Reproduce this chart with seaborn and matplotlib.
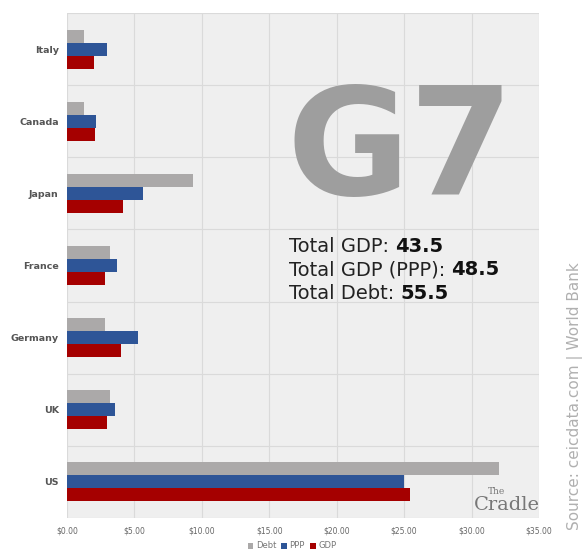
import matplotlib
matplotlib.use("Agg")
import matplotlib.pyplot as plt
import seaborn as sns
import pandas as pd
import numpy as np

countries = ["Italy", "Canada", "Japan", "France", "Germany", "UK", "US"]
debt = [1.25, 1.25, 9.35, 3.2, 2.8, 3.2, 32.0]
ppp = [3.0, 2.15, 5.65, 3.7, 5.25, 3.55, 25.0]
gdp = [2.0, 2.1, 4.15, 2.8, 4.0, 2.95, 25.4]
series = ["Debt", "PPP", "GDP"]
colors = ["#ABA9A9", "#2E5597", "#A50000"]
xticks = [0, 5, 10, 15, 20, 25, 30, 35]

df = pd.DataFrame({
    "country": countries * 3,
    "value": debt + ppp + gdp,
    "series": ["Debt"] * 7 + ["PPP"] * 7 + ["GDP"] * 7,
})

sns.set_theme(style="white")
plt.rcParams["font.family"] = ["DejaVu Sans"]

fig = plt.figure(figsize=(5.84, 5.49), dpi=100)
ax = fig.add_axes([67 / 584, 1 - 518 / 549, (539 - 67) / 584, (518 - 13) / 549])
ax.set_facecolor("#EFEFEF")

sns.barplot(data=df, y="country", x="value", hue="series", order=countries,
            hue_order=series, palette=colors, orient="h", width=0.54,
            saturation=1, linewidth=0, ax=ax, legend=True)

ax.set_xlim(0, 35)
ax.set_ylim(6.5, -0.5)
ax.set_xticks(xticks)
ax.set_xticklabels([f"${v:.2f}" for v in xticks], fontsize=5.5, color="#666666")
ax.set_yticks(range(len(countries)))
ax.set_yticklabels(countries, fontsize=6.8, fontweight="bold", color="#555555")
ax.set_yticks(np.arange(-0.5, 7, 1), minor=True)
ax.tick_params(axis="both", length=0, pad=6)
ax.tick_params(axis="y", which="minor", length=0)
ax.set_axisbelow(True)
ax.grid(axis="x", which="major", color="#DADADA", linewidth=0.8)
ax.grid(axis="y", which="minor", color="#DADADA", linewidth=0.8)
ax.grid(axis="y", which="major", visible=False)
for s in ax.spines.values():
    s.set_visible(False)
ax.set_xlabel("")
ax.set_ylabel("")

leg = ax.legend(loc="center", ncol=3, frameon=False, fontsize=6, handlelength=0.7,
                handleheight=0.7, handletextpad=0.3, columnspacing=0.6, labelcolor="#777777")
leg.set_bbox_to_anchor((0.5, 1 - 546 / 549), transform=fig.transFigure)

# big G7
fig.text(287 / 584, 1 - 195 / 549, "G7", fontsize=108, fontweight="bold", color="#9E9E9E",
         ha="left", va="baseline")

# totals
rows = [("Total GDP: ", "43.5", 252), ("Total GDP (PPP): ", "48.5", 275), ("Total Debt: ", "55.5", 299)]
for lab, val, yb in rows:
    t = fig.text(289 / 584, 1 - yb / 549, lab, fontsize=14, color="#222222", ha="left", va="baseline")
    ax.annotate(val, xy=(1, 0), xycoords=t, ha="left", va="bottom", fontsize=14,
                fontweight="bold", color="#111111")

# source
fig.text(575 / 584, 1 - 396 / 549, "Source: ceicdata.com | World Bank", rotation=90,
         fontsize=11, color="#B0B0B0", ha="center", va="center")

# logo
fig.text(507 / 584, 1 - 510 / 549, "Cradle", fontsize=14, family="DejaVu Serif",
         color="#777777", ha="center", va="baseline")
fig.text(497 / 584, 1 - 494 / 549, "The", fontsize=6.5, family="DejaVu Serif",
         color="#777777", ha="center", va="baseline")

fig.savefig("out.png", dpi=100, facecolor="white")
